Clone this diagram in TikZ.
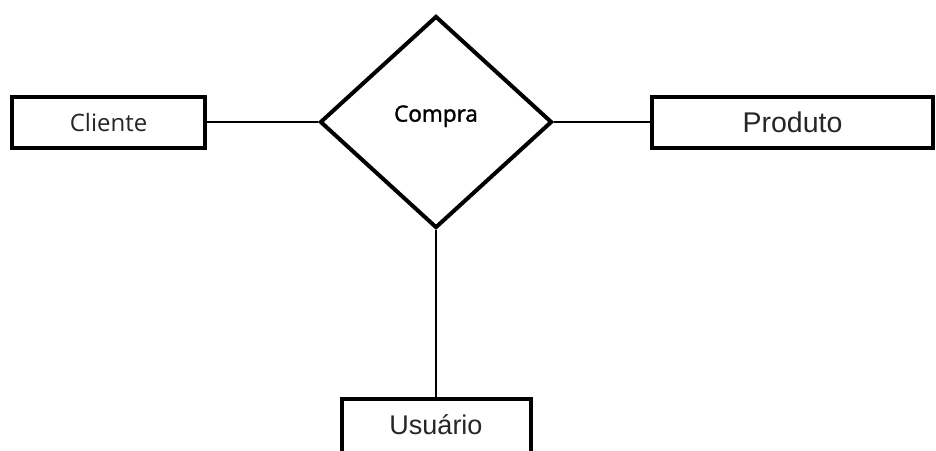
\documentclass[tikz,border=0pt]{standalone}
\usepackage{fontspec}
\setmainfont{Liberation Sans}
\newfontfamily\uifont{Open Sans}
\newfontfamily\uifontbold[FakeBold=1.6]{Open Sans}
\usetikzlibrary{shapes.geometric}
\tikzset{
  wire/.style={line width=1.5pt},
  entity/.style={draw, line width=4pt, fill=white, inner sep=0pt, minimum height=51pt, text=black!85},
  relation/.style={diamond, draw, line width=4pt, fill=white, inner sep=0pt, minimum width=232pt, minimum height=212pt, text=black}
}

\begin{document}
\begin{tikzpicture}[x=1pt,y=-1pt]
  \clip (0,0) rectangle (936,450);
  % relationship and its three entities
  \node[relation, font=\uifontbold\fontsize{22.5}{26}\selectfont, text depth=17pt] (compra) at (436,122) {Compra};
  \node[entity, minimum width=193pt, font=\uifont\fontsize{24}{28}\selectfont] (cliente) at (108.5,122) {Cliente};
  \node[entity, minimum width=281pt, font=\fontsize{28.5}{32}\selectfont] (produto) at (792.5,122) {Produto};
  \node[entity, anchor=north, minimum width=189pt, minimum height=60pt, text depth=8pt, font=\fontsize{27}{31}\selectfont] (usuario) at (436,397) {Usuário};
  \draw[wire] (cliente.east) -- (compra.west);
  \draw[wire] (compra.east) -- (produto.west);
  \draw[wire] (compra.south) -- (usuario.north);
\end{tikzpicture}
\end{document}
